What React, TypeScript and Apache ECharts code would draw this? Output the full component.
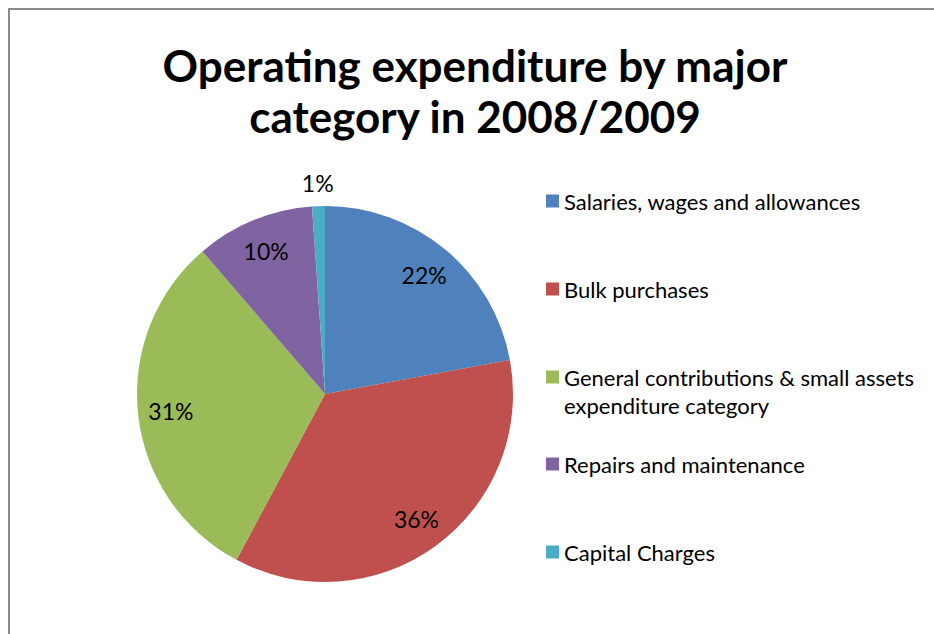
import React, { useEffect, useRef } from "react";
import * as echarts from "echarts";

const categories = [
  "Salaries, wages and allowances",
  "Bulk purchases",
  "General contributions & small assets expenditure category",
  "Repairs and maintenance",
  "Capital Charges",
];
const values = [22.1, 35.7, 30.9, 10.2, 1.1];
const colors = ["#4F81BD", "#C0504D", "#9BBB59", "#8064A2", "#4BACC6"];
const titleText = "Operating expenditure by major\ncategory in 2008/2009";

const FONT = "Lato";

export default function App() {
  const ref = useRef<HTMLDivElement>(null);
  useEffect(() => {
    if (!ref.current) return;
    const chart = echarts.init(ref.current, undefined, { renderer: "svg" });
    const data = categories.map((c, i) => ({ name: c, value: values[i] }));
    const legendBase = {
      orient: "vertical" as const,
      left: 546,
      padding: 0,
      itemWidth: 13,
      itemHeight: 13,
      itemGap: 60,
      icon: "rect",
      selectedMode: false,
      textStyle: { fontFamily: FONT, fontSize: 22, color: "#000", lineHeight: 28 },
      formatter: (name: string) =>
        name.startsWith("General")
          ? "\nGeneral contributions & small assets\nexpenditure category"
          : name,
    };
    chart.setOption({
      animation: false,
      backgroundColor: "#fff",
      color: colors,
      title: {
        text: titleText,
        left: 475,
        top: 39,
        padding: 0,
        textAlign: "center",
        textStyle: { fontFamily: FONT, fontWeight: "bold", fontSize: 44, lineHeight: 51, color: "#000" },
      },
      legend: [
        { ...legendBase, top: 187, data: [categories[0], categories[1]] },
        { ...legendBase, top: 335, data: [categories[2]] },
        { ...legendBase, top: 450, data: [categories[3], categories[4]] },
      ],
      graphic: [
        {
          type: "rect",
          shape: { x: 9, y: 9, width: 1000, height: 1000 },
          style: { fill: "none", stroke: "#8a8a8a", lineWidth: 2 },
          silent: true,
        },
      ],
      series: [
        {
          type: "pie",
          center: [325, 394],
          radius: 188,
          startAngle: 90,
          clockwise: true,
          silent: true,
          label: { show: false },
          labelLine: { show: false },
          data,
        },
        {
          type: "pie",
          center: [325, 394],
          radius: [116, 188],
          startAngle: 90,
          clockwise: true,
          silent: true,
          percentPrecision: 0,
          itemStyle: { color: "rgba(0,0,0,0)" },
          label: {
            show: true,
            position: "inside",
            formatter: "{d}%",
            fontFamily: FONT,
            fontSize: 23,
            color: "#000",
          },
          labelLine: { show: false },
          data: data.map((d, i) => (i === 4 ? { ...d, label: { show: false } } : d)),
        },
        {
          type: "pie",
          center: [325, 394],
          radius: [195, 221],
          startAngle: 90,
          clockwise: true,
          silent: true,
          percentPrecision: 0,
          itemStyle: { color: "rgba(0,0,0,0)" },
          label: {
            show: false,
            position: "inside",
            formatter: "{d}%",
            fontFamily: FONT,
            fontSize: 23,
            color: "#000",
          },
          labelLine: { show: false },
          data: data.map((d, i) => (i === 4 ? { ...d, label: { show: true } } : d)),
        },
      ],
    });
    return () => chart.dispose();
  }, []);
  return (
    <div
      ref={ref}
      style={{ position: "absolute", left: 0, top: 0, width: 934, height: 634 }}
    />
  );
}
